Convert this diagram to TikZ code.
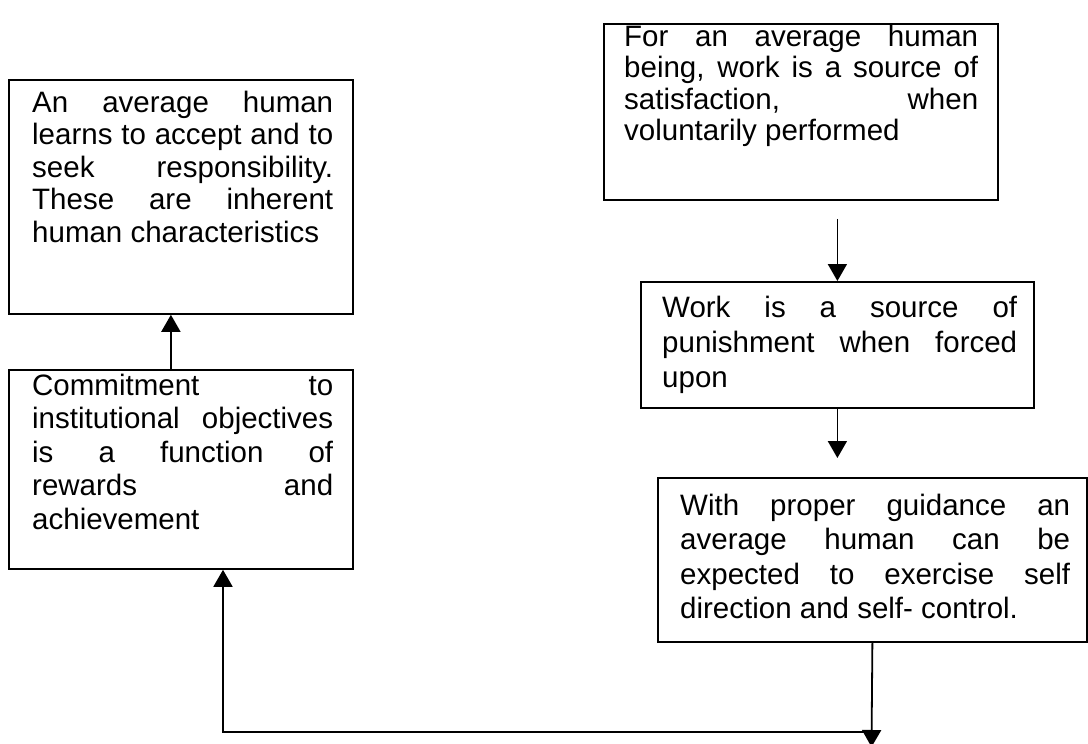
\documentclass[tikz,border=0pt]{standalone}
\usepackage{fontspec}
\setmainfont{Liberation Sans}
\usetikzlibrary{arrows.meta}
% one fully justified line of a given width
\newcommand\jline[2]{\makebox[#1][s]{\strut#2}}
\begin{document}
\begin{tikzpicture}[x=1pt,y=-1pt,
  box/.style={draw, line width=1.8pt, inner sep=0pt, anchor=north west},
  txt/.style={anchor=north west, inner sep=0pt, align=left},
  arr/.style={line width=1.8pt, -{Triangle[width=19pt,length=17pt]}}]
\useasboundingbox[fill=white] (0,0) rectangle (1088,744);

% boxes
\node[box, minimum width=344pt, minimum height=234pt] (a) at (8,79) {};
\node[box, minimum width=344pt, minimum height=199pt] (b) at (8,369) {};
\node[box, minimum width=394pt, minimum height=176pt] (c) at (603,23) {};
\node[box, minimum width=393pt, minimum height=126pt] (d) at (640,281) {};
\node[box, minimum width=429pt, minimum height=164pt] (e) at (657,477) {};

% texts
\node[txt, font=\fontsize{29.5}{32.5}\selectfont] (ta) at (32,89.25) {%
  \jline{301pt}{An average human}\\
  \jline{301pt}{learns to accept and to}\\
  \jline{301pt}{seek responsibility.}\\
  \jline{301pt}{These are inherent}\\
  \strut human characteristics};
\node[txt, font=\fontsize{29.5}{33.5}\selectfont] (tb) at (32,371.55) {%
  \jline{301pt}{Commitment to}\\
  \jline{301pt}{institutional objectives}\\
  \jline{301pt}{is a function of}\\
  \jline{301pt}{rewards and}\\
  \strut achievement};
\node[txt, font=\fontsize{29.5}{30.5}\selectfont] (tc) at (624,24.65) {%
  \jline{354pt}{For an average human}\\
  \jline{354pt}{being, work is a source of}\\
  \jline{354pt}{satisfaction, when}\\
  \strut voluntarily performed};
\node[txt, font=\fontsize{29.5}{35}\selectfont] (td) at (662,292.5) {%
  \jline{355pt}{Work is a source of}\\
  \jline{355pt}{punishment when forced}\\
  \strut upon};
\node[txt, font=\fontsize{29.5}{34.5}\selectfont] (te) at (680,490.85) {%
  \jline{390pt}{With proper guidance an}\\
  \jline{390pt}{average human can be}\\
  \jline{390pt}{expected to exercise self}\\
  \strut direction and self- control.};

% connectors
\coordinate (bend) at (223,732);
\coordinate (tip) at (871.5,747);
\draw[arr] ([xshift=-10pt]b.north) -- ([xshift=-10pt]a.south);
\draw[arr] ([yshift=-18pt]c.south -| d.north) -- (d.north);
\draw[arr] (d.south) -- ([yshift=19pt]e.north -| d.south);
\draw[arr] (e.south) -- (tip);
\draw[arr] (e.south |- bend) -- (bend) -- (bend |- b.south);
\end{tikzpicture}
\end{document}
